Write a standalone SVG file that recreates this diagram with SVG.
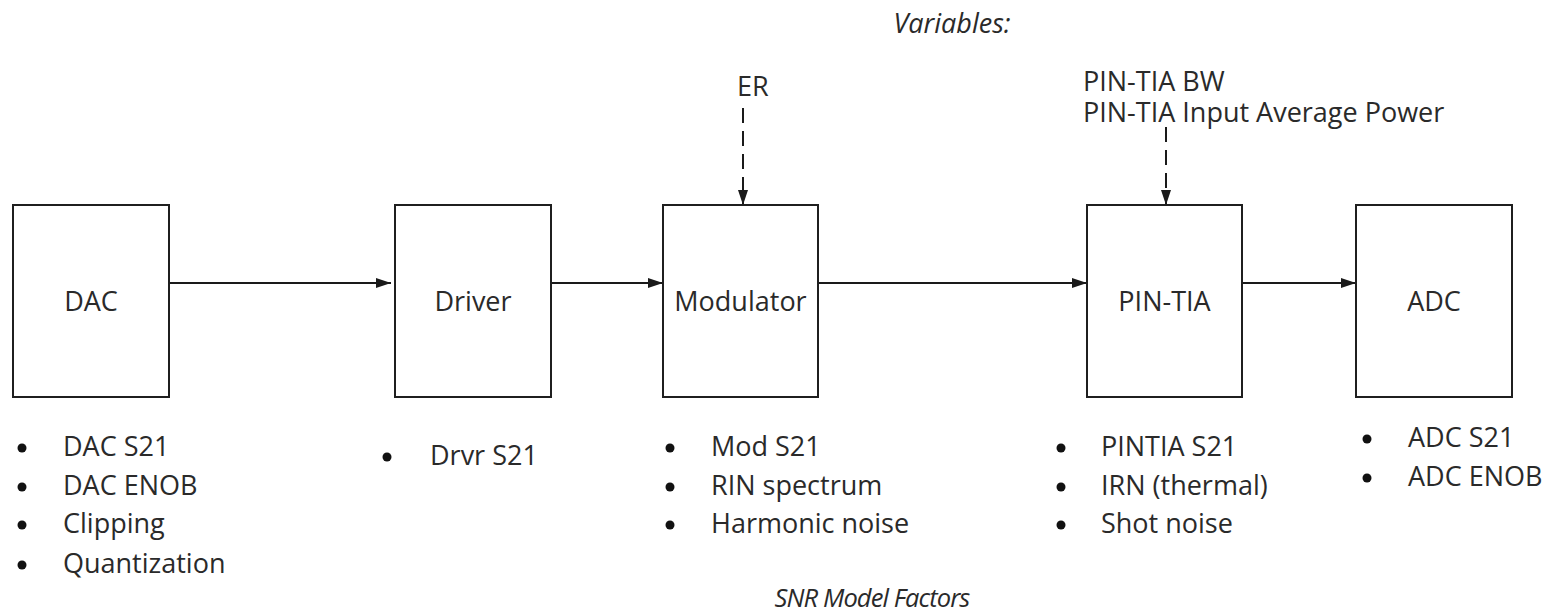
<svg xmlns="http://www.w3.org/2000/svg" width="1557" height="612" viewBox="0 0 1557 612">
<style>
  .box { fill: #ffffff; stroke: #1f1f1f; stroke-width: 2; }
  .t { font-family: "Open Sans", "Noto Sans", sans-serif; font-size: 27px; fill: #2a2a2a; }
  .lbl { text-anchor: middle; }
  .it { font-style: italic; }
  .conn { stroke: #1a1a1a; stroke-width: 2; fill: none; }
  .dash { stroke-dasharray: 15 8; }
  .bul { fill: #111111; }
</style>
<defs>
  <marker id="arr" viewBox="0 0 15 10" refX="15" refY="5" markerWidth="15" markerHeight="10" markerUnits="userSpaceOnUse" orient="auto">
    <path d="M0,0 L15,5 L0,10 z" fill="#1a1a1a"/>
  </marker>
</defs>
<rect width="1557" height="612" fill="#ffffff"/>

<text class="t it" x="952" y="33" text-anchor="middle">Variables:</text>

<g id="var-er">
  <text class="t" x="737" y="96">ER</text>
</g>
<g id="var-pintia">
  <text class="t" x="1083" y="91">PIN-TIA BW</text>
  <text class="t" x="1083" y="122">PIN-TIA Input Average Power</text>
</g>

<g id="connectors">
  <line class="conn" x1="167" y1="283" x2="391" y2="283" marker-end="url(#arr)"/>
  <line class="conn" x1="551" y1="283" x2="663" y2="283" marker-end="url(#arr)"/>
  <line class="conn" x1="818" y1="283" x2="1087" y2="283" marker-end="url(#arr)"/>
  <line class="conn" x1="1242" y1="283" x2="1356" y2="283" marker-end="url(#arr)"/>
  <line class="conn dash" x1="743" y1="108" x2="743" y2="205" marker-end="url(#arr)"/>
  <line class="conn dash" x1="1166" y1="127" x2="1166" y2="205" marker-end="url(#arr)"/>
</g>

<g id="dac">
  <rect class="box" x="13" y="205" width="156" height="192"/>
  <text class="t lbl" x="91" y="311">DAC</text>
</g>
<g id="driver">
  <rect class="box" x="395" y="205" width="156" height="192"/>
  <text class="t lbl" x="473" y="311">Driver</text>
</g>
<g id="modulator">
  <rect class="box" x="663" y="205" width="155" height="192"/>
  <text class="t lbl" x="740.5" y="311">Modulator</text>
</g>
<g id="pintia">
  <rect class="box" x="1087" y="205" width="155" height="192"/>
  <text class="t lbl" x="1164.5" y="311">PIN-TIA</text>
</g>
<g id="adc">
  <rect class="box" x="1356" y="205" width="156" height="192"/>
  <text class="t lbl" x="1434" y="311">ADC</text>
</g>

<g id="dac-factors">
  <circle class="bul" cx="22" cy="448" r="4.5"/>
  <circle class="bul" cx="22" cy="487" r="4.5"/>
  <circle class="bul" cx="22" cy="525" r="4.5"/>
  <circle class="bul" cx="22" cy="565" r="4.5"/>
  <text class="t" x="63" y="456">DAC S21</text>
  <text class="t" x="63" y="495">DAC ENOB</text>
  <text class="t" x="63" y="533">Clipping</text>
  <text class="t" x="63" y="573">Quantization</text>
</g>
<g id="driver-factors">
  <circle class="bul" cx="387" cy="457" r="4.5"/>
  <text class="t" x="430" y="465">Drvr S21</text>
</g>
<g id="mod-factors">
  <circle class="bul" cx="670" cy="448" r="4.5"/>
  <circle class="bul" cx="670" cy="487" r="4.5"/>
  <circle class="bul" cx="670" cy="525" r="4.5"/>
  <text class="t" x="711" y="456">Mod S21</text>
  <text class="t" x="711" y="495">RIN spectrum</text>
  <text class="t" x="711" y="533">Harmonic noise</text>
</g>
<g id="pintia-factors">
  <circle class="bul" cx="1061" cy="448" r="4.5"/>
  <circle class="bul" cx="1061" cy="487" r="4.5"/>
  <circle class="bul" cx="1061" cy="525" r="4.5"/>
  <text class="t" x="1101" y="456">PINTIA S21</text>
  <text class="t" x="1101" y="495">IRN (thermal)</text>
  <text class="t" x="1101" y="533">Shot noise</text>
</g>
<g id="adc-factors">
  <circle class="bul" cx="1367" cy="439" r="4.5"/>
  <circle class="bul" cx="1367" cy="478" r="4.5"/>
  <text class="t" x="1408" y="447">ADC S21</text>
  <text class="t" x="1408" y="486">ADC ENOB</text>
</g>

<text class="t it" x="872" y="607" text-anchor="middle" style="font-size:25.5px; letter-spacing:-0.9px">SNR Model Factors</text>
</svg>
